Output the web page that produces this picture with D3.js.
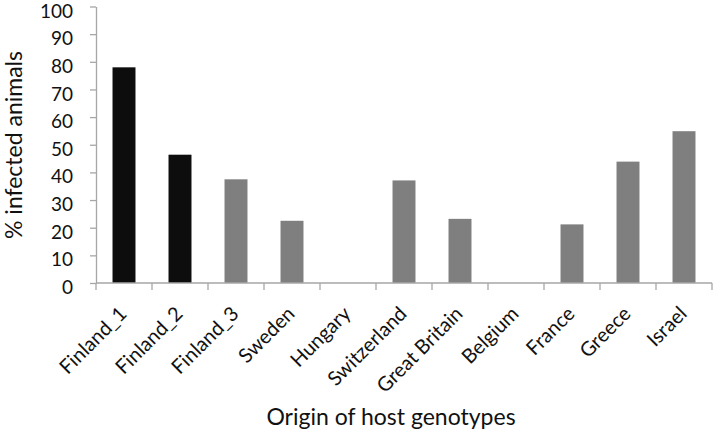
<!DOCTYPE html>
<html>
<head>
<meta charset="utf-8">
<script src="https://cdn.jsdelivr.net/npm/d3@7"></script>
<style>
  body { margin: 0; background: #fff; }
  text { font-family: Lato, "Open Sans", sans-serif; fill: #111; }
</style>
</head>
<body>
<svg id="chart" width="714" height="433"></svg>
<script>
const categories = ["Finland_1", "Finland_2", "Finland_3", "Sweden", "Hungary", "Switzerland",
  "Great Britain", "Belgium", "France", "Greece", "Israel"];
const values = [78, 46.4, 37.5, 22.5, 0, 37.1, 23.2, 0, 21.2, 43.9, 54.9];
const groups = ["dark", "dark", "grey", "grey", "grey", "grey", "grey", "grey", "grey", "grey", "grey"];
const yTicks = [0, 10, 20, 30, 40, 50, 60, 70, 80, 90, 100];

const svg = d3.select("#chart");
const margin = {left: 96, right: 2, top: 6.5};
const width = 714;
const y0 = 283;
const axisColor = "#a6a6a6";

const x = d3.scaleBand()
  .domain(categories)
  .range([margin.left, width - margin.right])
  .paddingInner(0.59)
  .paddingOuter(0.295);

const y = d3.scaleLinear().domain([0, 100]).range([y0, margin.top]);

const color = d3.scaleOrdinal().domain(["dark", "grey"]).range(["#0d0d0d", "#7f7f7f"]);

// bars
svg.append("g").selectAll("rect")
  .data(categories)
  .join("rect")
    .attr("x", d => x(d))
    .attr("width", x.bandwidth())
    .attr("y", (d, i) => y(values[i]))
    .attr("height", (d, i) => y0 - y(values[i]))
    .attr("fill", (d, i) => color(groups[i]));

// y axis
const yAxis = svg.append("g")
  .attr("transform", `translate(${margin.left},0)`)
  .call(d3.axisLeft(y).tickValues(yTicks).tickSize(6).tickPadding(17).tickSizeOuter(0));
yAxis.select(".domain").attr("stroke", axisColor).attr("stroke-width", 1.3);
yAxis.selectAll(".tick line").attr("stroke", axisColor).attr("stroke-width", 1.3);
yAxis.selectAll("text")
  .style("font-size", "19px")
  .attr("fill", "#111")
  .attr("y", 4.5);

// x axis: ticks at band boundaries
const step = x.step();
const boundaries = d3.range(categories.length + 1).map(i => margin.left + i * step);
const xg = svg.append("g");
xg.append("line")
  .attr("x1", margin.left).attr("x2", width - margin.right)
  .attr("y1", y0).attr("y2", y0)
  .attr("stroke", axisColor).attr("stroke-width", 1.3);
xg.selectAll("line.tick")
  .data(boundaries)
  .join("line")
    .attr("class", "tick")
    .attr("x1", d => d).attr("x2", d => d)
    .attr("y1", y0).attr("y2", y0 + 7)
    .attr("stroke", axisColor).attr("stroke-width", 1.3);

xg.selectAll("text")
  .data(categories)
  .join("text")
    .attr("transform", d => `translate(${x(d) + x.bandwidth() / 2 + 4},315) rotate(-45)`)
    .attr("text-anchor", "end")
    .style("font-size", "20px")
    .text(d => d);

// axis titles
svg.append("text")
  .attr("transform", `translate(22,145) rotate(-90)`)
  .attr("text-anchor", "middle")
  .style("font-size", "23px")
  .text("% infected animals");

svg.append("text")
  .attr("x", 391)
  .attr("y", 425)
  .attr("text-anchor", "middle")
  .style("font-size", "23px")
  .text("Origin of host genotypes");
</script>
</body>
</html>
